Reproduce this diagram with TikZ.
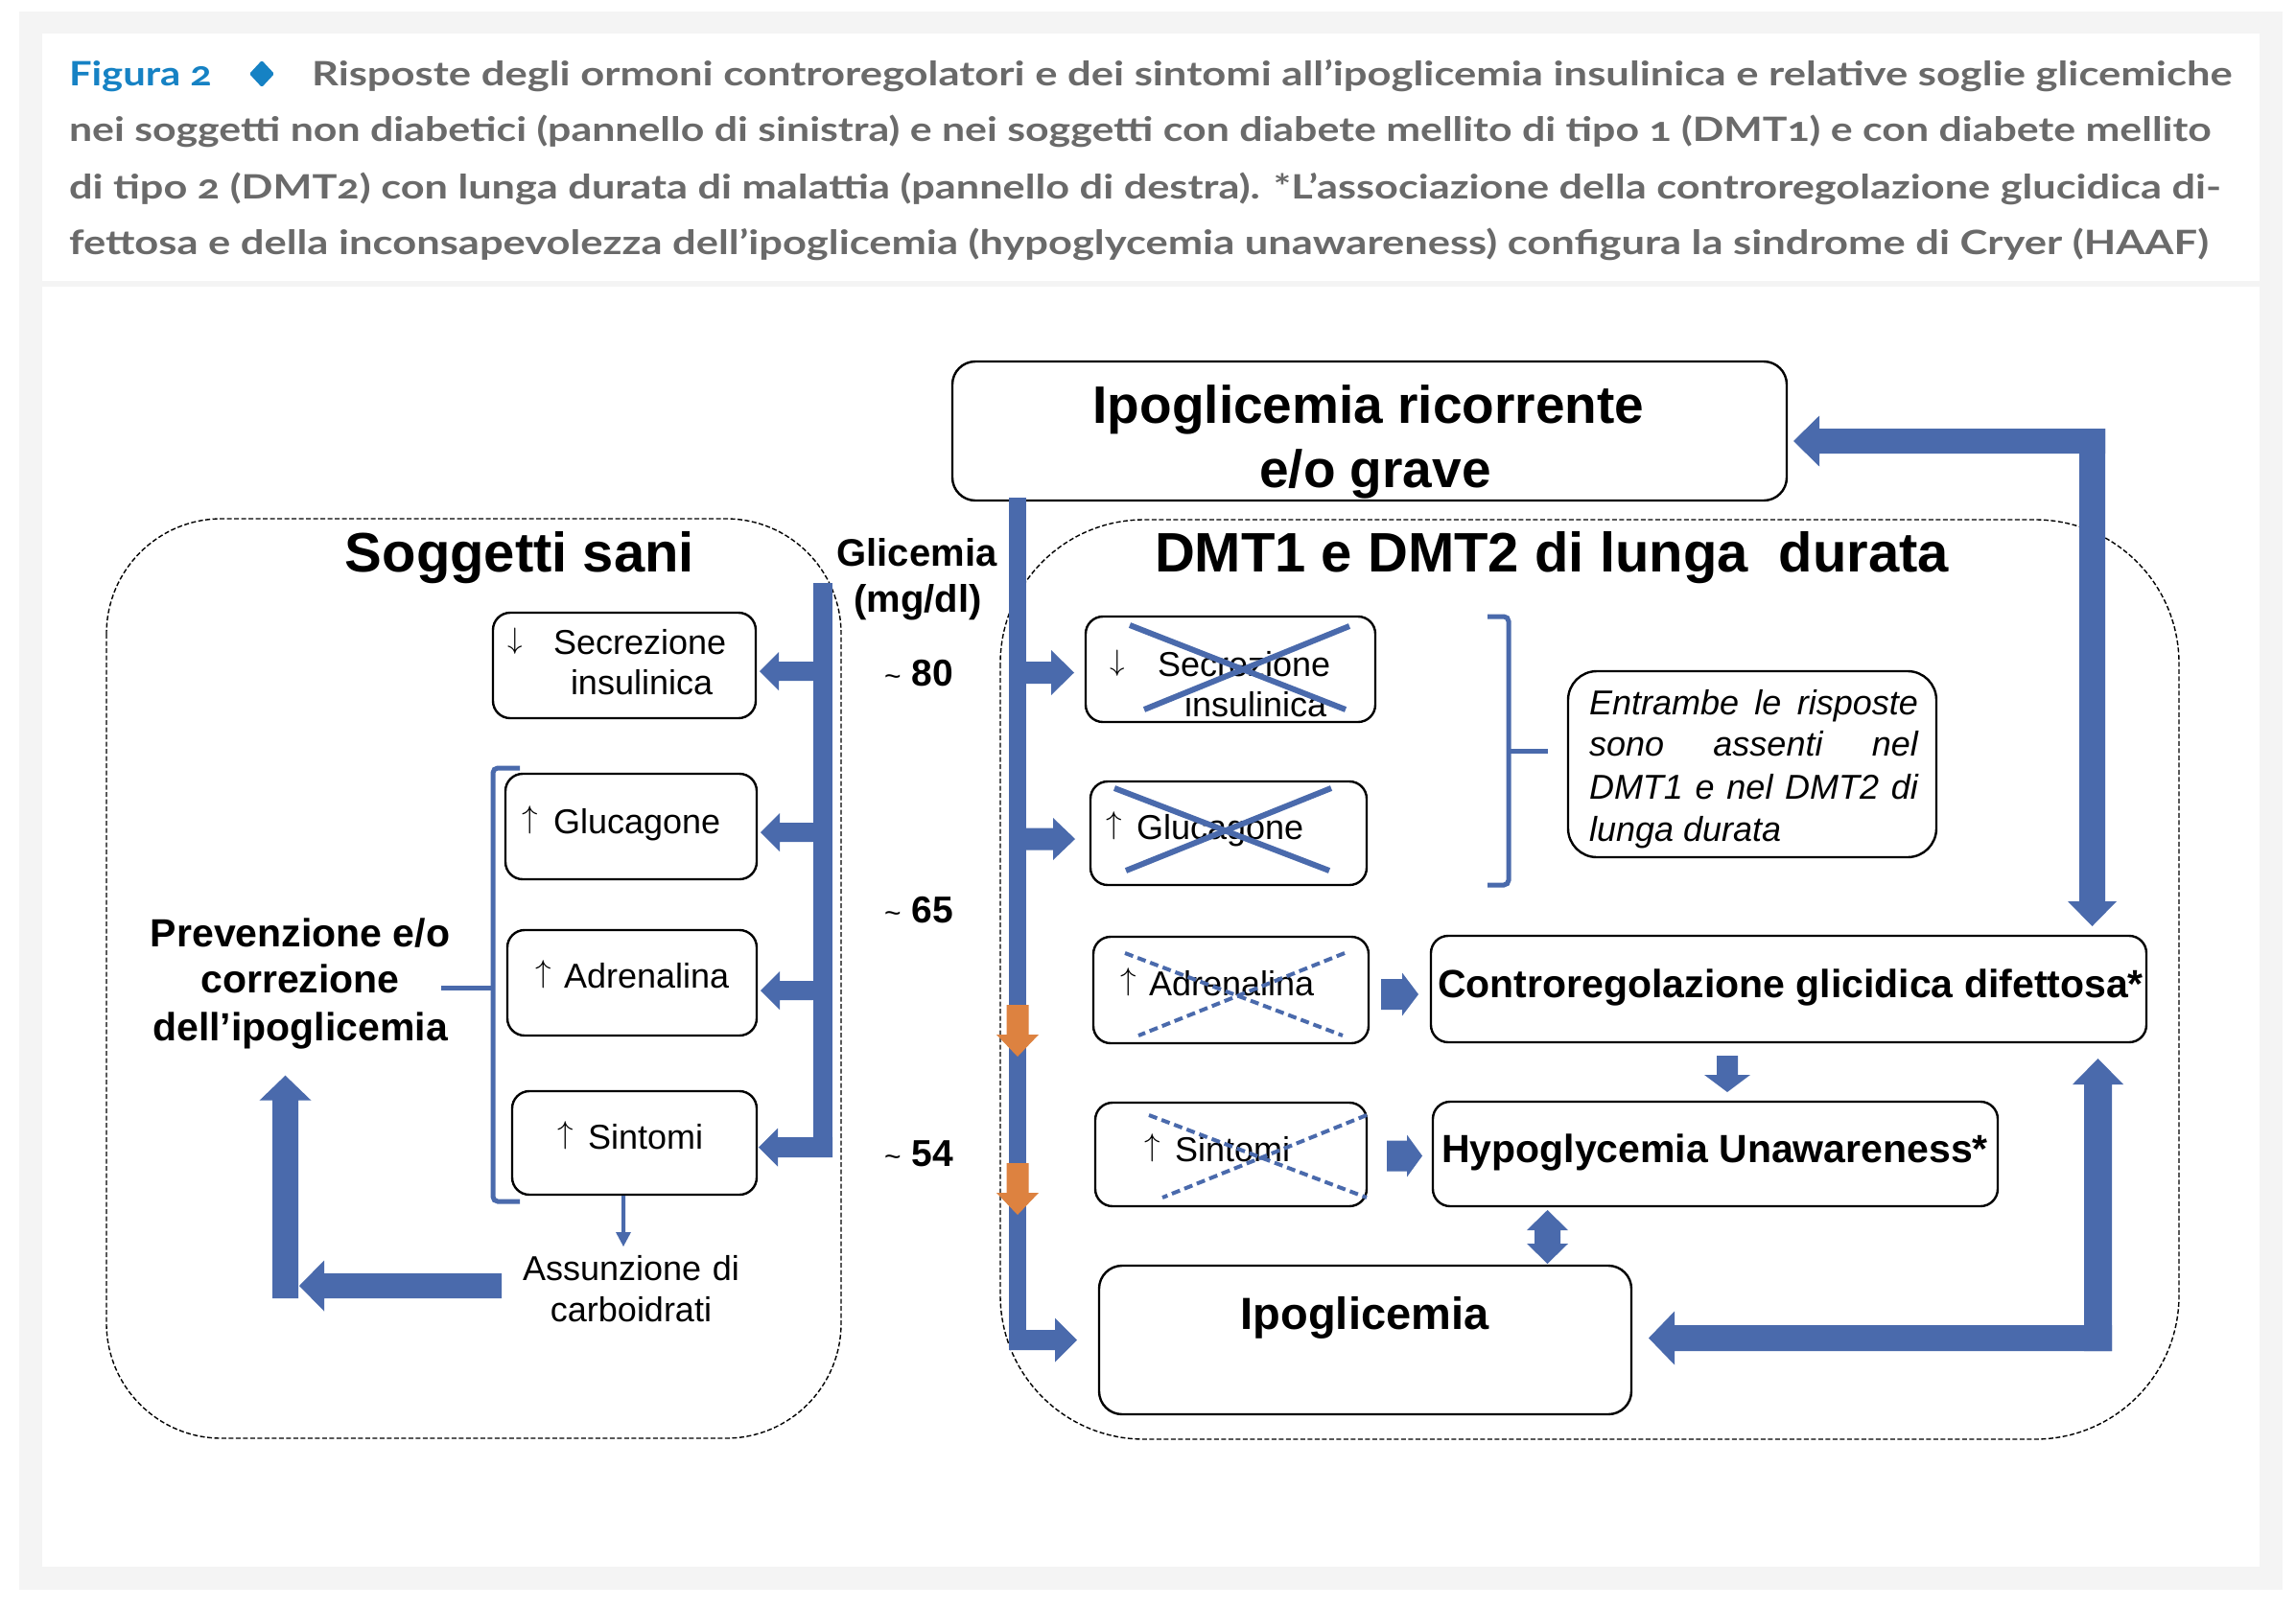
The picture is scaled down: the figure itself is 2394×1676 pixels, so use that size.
\RequirePackage{fix-cm}
\documentclass[tikz,border=0pt]{standalone}
\usepackage{fontspec}
\usepackage{graphicx}
\setmainfont{Liberation Sans}
\newfontfamily\capfont{Lato}[Numbers=OldStyle]
\usetikzlibrary{calc}
\definecolor{bgray}{RGB}{244,244,244}
\definecolor{capblue}{RGB}{22,130,196}
\definecolor{capgray}{RGB}{106,106,106}
\definecolor{ablue}{RGB}{74,106,172}
\definecolor{aorange}{RGB}{221,130,64}
\newcommand\fs[1]{\fontsize{#1}{#1}\selectfont}
\newcommand\upa{{\fs{33}\raisebox{6pt}{$\uparrow$}}}
\newcommand\dna{{\fs{31}\raisebox{6pt}{$\downarrow$}}}
% block arrow: [colour]{from}{to}{shaft half}{head half}{head length}
\newcommand\blockarrow[6][ablue]{%
  \coordinate (ba-a) at #2;
  \coordinate (ba-b) at #3;
  \coordinate (ba-h) at ($(ba-b)!#6!(ba-a)$);
  \fill[#1] ($(ba-a)!#4!90:(ba-b)$) -- ($(ba-h)!#4!90:(ba-b)$) -- ($(ba-h)!#5!90:(ba-b)$)
    -- (ba-b) -- ($(ba-h)!#5!270:(ba-b)$) -- ($(ba-h)!#4!270:(ba-b)$) -- ($(ba-a)!#4!270:(ba-b)$) -- cycle;
}
\begin{document}
\begin{tikzpicture}[x=1pt,y=-1pt,
  every node/.style={inner sep=0pt, outer sep=0pt},
  rbox/.style={draw=black, line width=2.4pt, rounded corners=#1, fill=white},
  rbox/.default=18pt,
  panel/.style={draw=black, line width=1.4pt, dash pattern=on 5pt off 2.5pt, rounded corners=#1},
  crossS/.style={draw=ablue, line width=6pt},
  crossD/.style={draw=ablue, line width=4pt, dash pattern=on 9pt off 5pt},
  brk/.style={draw=ablue, line width=5pt, rounded corners=5pt},
  captxt/.style={anchor=base west, text=capgray, font=\capfont\bfseries\fs{35}},
  body/.style={anchor=base west, font=\fs{36}},
  bodyc/.style={anchor=base, font=\fs{36}},
  bold/.style={anchor=base, font=\bfseries\fs{#1}},
]
% ---------- background ----------
\fill[white] (0,0) rectangle (2394,1676);
\fill[bgray] (20,12) rectangle (2380,1658);
\fill[white] (44,35) rectangle (2356,293);
\fill[white] (44,299) rectangle (2356,1634);
\useasboundingbox (0,0) rectangle (2394,1676);

% ---------- caption ----------
\node[captxt, text=capblue] (fig) at (72,89) {\resizebox{149pt}{\height}{Figura 2}};
\fill[capblue, rounded corners=1.5pt] (273,63) -- (286,77) -- (273,91) -- (260,77) -- cycle;
\node[captxt] (cap1) at (325,89) {\resizebox{2002pt}{\height}{Risposte degli ormoni controregolatori e dei sintomi all’ipoglicemia insulinica e relative soglie glicemiche}};
\node[captxt] (cap2) at (72,147) {\resizebox{2233pt}{\height}{nei soggetti non diabetici (pannello di sinistra) e nei soggetti con diabete mellito di tipo 1 (DMT1) e con diabete mellito}};
\node[captxt] (cap3) at (72,207) {\resizebox{2243pt}{\height}{di tipo 2 (DMT2) con lunga durata di malattia (pannello di destra). *L’associazione della controregolazione glucidica di-}};
\node[captxt] (cap4) at (72,265) {\resizebox{2230pt}{\height}{fettosa e della inconsapevolezza dell’ipoglicemia (hypoglycemia unawareness) configura la sindrome di Cryer (HAAF)}};

% ---------- panels ----------
\draw[panel=120pt] (111,541) rectangle (877,1500);
\draw[panel=150pt] (1043,542) rectangle (2272,1501);

% ---------- titles ----------
\node[bold=58] (tsani) at (542,596) {Soggetti sani};
\node[bold=58, anchor=base west] (tdmt) at (1204,596) {DMT1 e DMT2 di lunga~~durata};
\node[bold=40] (glic1) at (956,590) {Glicemia};
\node[bold=40] (glic2) at (957,638) {(mg/dl)};
\node[bold=39] (g80) at (958,715) {{\mdseries\fs{30}\textasciitilde} 80};
\node[bold=39] (g65) at (958,962) {{\mdseries\fs{30}\textasciitilde} 65};
\node[bold=39] (g54) at (958,1216) {{\mdseries\fs{30}\textasciitilde} 54};

% ---------- top box ----------
\node[rbox=24pt, minimum width=870pt, minimum height=145pt] (ric) at (1428,449.5) {};
\node[bold=55] (ric1) at (1427,441) {Ipoglicemia ricorrente};
\node[bold=55] (ric2) at (1434,508) {e/o grave};

% ---------- left boxes ----------
\node[rbox, minimum width=274pt, minimum height=110pt] (sL) at (651,694) {};
\node[rbox, minimum width=262pt, minimum height=110pt] (gL) at (658,862) {};
\node[rbox, minimum width=260pt, minimum height=110pt] (aL) at (659,1025) {};
\node[rbox, minimum width=255pt, minimum height=108pt] (tL) at (661.5,1192) {};
\node[bodyc] (sLa) at (537,682) {\dna};
\node[body] (sL1) at (577,682) {Secrezione};
\node[body] (sL2) at (595,724) {insulinica};
\node[bodyc] (gLa) at (553,869) {\upa};
\node[body] (gL1) at (577,869) {Glucagone};
\node[bodyc] (aLa) at (567,1030) {\upa};
\node[body] (aL1) at (588,1030) {Adrenalina};
\node[bodyc] (tLa) at (590,1198) {\upa};
\node[body] (tL1) at (613,1198) {Sintomi};

% left text
\node[bold=41] (prev1) at (313,987) {Prevenzione e/o};
\node[bold=41] (prev2) at (313,1035) {correzione};
\node[bold=41] (prev3) at (313,1085) {dell’ipoglicemia};
\node[bodyc] (ass1) at (658,1335) {\makebox[226pt][s]{Assunzione di}};
\node[bodyc] (ass2) at (658,1378) {carboidrati};

% left bracket
\draw[brk] (542,801) -- (514,801) -- (514,1253) -- (542,1253);
\draw[brk] (514,1030) -- (460,1030);

% left trunk and branches
\coordinate (ltop) at (848,608);
\coordinate (lbot) at (868,1207);
\fill[ablue] (ltop) rectangle (lbot);
\blockarrow{(858,700)}{($(sL.east)+(4,6)$)}{10pt}{20pt}{20pt}
\blockarrow{(858,868)}{($(gL.east)+(4,6)$)}{10pt}{20pt}{20pt}
\blockarrow{(858,1033)}{($(aL.east)+(4,8)$)}{10pt}{20pt}{20pt}
\blockarrow{(868,1196.5)}{($(tL.east)+(2,4.5)$)}{10.5pt}{20pt}{20pt}
% thin arrow to Assunzione
\blockarrow{($(tL.south)+(-11.5,1)$)}{($(tL.south)+(-11.5,54)$)}{2pt}{8pt}{15pt}
% L arrow
\blockarrow{($(ass1.base west)+(-22,6)$)}{(312,1341)}{13pt}{26.5pt}{26pt}
\blockarrow{(297.5,1354)}{($(prev3.south)+(-15.5,28)$)}{13.5pt}{27pt}{26pt}

% ---------- right boxes ----------
\node[rbox, minimum width=302pt, minimum height=110pt] (sR) at (1283,698) {};
\node[rbox, minimum width=288pt, minimum height=108pt] (gR) at (1281,869) {};
\node[rbox, minimum width=287pt, minimum height=111pt] (aR) at (1283.5,1032.5) {};
\node[rbox, minimum width=283pt, minimum height=108pt] (tR) at (1283.5,1204) {};
\node[rbox=30pt, minimum width=384pt, minimum height=194pt] (entr) at (1827,797) {};
\node[rbox, minimum width=746pt, minimum height=111pt] (contro) at (1865,1031.5) {};
\node[rbox, minimum width=589pt, minimum height=109pt] (hypo) at (1788.5,1203.5) {};
\node[rbox=24pt, minimum width=555pt, minimum height=155pt] (ipo) at (1423.5,1397.5) {};

\node[bodyc] (sRa) at (1165,705) {\dna};
\node[body] (sR1) at (1207,705) {Secrezione};
\node[body] (sR2) at (1235,747) {insulinica};
\node[bodyc] (gRa) at (1162,875) {\upa};
\node[body] (gR1) at (1185,875) {Glucagone};
\node[bodyc] (aRa) at (1177,1038) {\upa};
\node[body] (aR1) at (1198,1038) {Adrenalina};
\node[bodyc] (tRa) at (1202,1211) {\upa};
\node[body] (tR1) at (1225,1211) {Sintomi};

\node[body, font=\itshape\fs{36}] (en1) at (1657,745) {\makebox[343pt][s]{Entrambe le risposte}};
\node[body, font=\itshape\fs{36}] (en2) at (1657,788) {\makebox[343pt][s]{sono assenti nel}};
\node[body, font=\itshape\fs{36}] (en3) at (1657,833) {\makebox[343pt][s]{DMT1 e nel DMT2 di}};
\node[body, font=\itshape\fs{36}] (en4) at (1657,877) {lunga durata};

\node[bold=41] (contro1) at (1867,1040) {Controregolazione glicidica difettosa*};
\node[bold=41] (hypo1) at (1788,1212) {Hypoglycemia Unawareness*};
\node[bold=47] (ipo1) at (1423,1386) {Ipoglicemia};

% crosses
\draw[crossS] (1178,652) -- (1403,740);
\draw[crossS] (1407,653) -- (1193,740);
\draw[crossS] (1162,822) -- (1386,908);
\draw[crossS] (1388,822) -- (1174,908);
\draw[crossD] (1173,994) -- (1400,1080);
\draw[crossD] (1402,994) -- (1187,1080);
\draw[crossD] (1198,1163) -- (1425,1249);
\draw[crossD] (1425,1163) -- (1212,1249);

% right bracket
\draw[brk] (1551,643) -- (1573,643) -- (1573,923) -- (1551,923);
\draw[brk] (1573,783) -- (1614,783);

% right trunk and branches
\coordinate (rtop) at (1052,519);
\coordinate (rbot) at (1070,1408);
\fill[ablue] (rtop) rectangle (rbot);
\blockarrow{(1061,701.5)}{($(sR.west)+(-12,3.5)$)}{11.5pt}{23.5pt}{24pt}
\blockarrow{(1061,875)}{($(gR.west)+(-16,6)$)}{11.5pt}{22pt}{23pt}
\blockarrow{(1052,1397.5)}{($(ipo.west)+(-23,0)$)}{10.5pt}{23pt}{23pt}
% orange arrows
\blockarrow[aorange]{(1061,1048)}{(1061,1102)}{11.5pt}{22pt}{23pt}
\blockarrow[aorange]{(1061,1213)}{(1061,1267)}{11.5pt}{22pt}{23pt}

% small arrows
\blockarrow{($(aR.east)+(13,4.5)$)}{($(contro.west)+(-13,5.5)$)}{16pt}{22.5pt}{17pt}
\blockarrow{($(tR.east)+(21,1.5)$)}{($(hypo.west)+(-11,2)$)}{16pt}{22pt}{16pt}
\blockarrow{($(contro.south)+(-64,14)$)}{($(hypo.north)+(12.5,-10)$)}{11pt}{24pt}{18pt}
\coordinate (dmid) at (1613.5,1290);
\blockarrow{(dmid)}{($(hypo.south)+(-175,4)$)}{13.5pt}{21.5pt}{21pt}
\blockarrow{(dmid)}{($(ipo.north)+(190,-2)$)}{13.5pt}{21.5pt}{21pt}

% top loop
\coordinate (tb) at (2181.5,447);
\blockarrow{(2195,460)}{($(ric.east)+(7,10.5)$)}{13pt}{26.5pt}{27pt}
\blockarrow{(tb)}{($(contro.north -| tb)+(0,-10)$)}{13.5pt}{25.5pt}{26pt}
% bottom loop
\coordinate (bb) at (2187.5,1409);
\blockarrow{(bb)}{($(contro.south -| bb)+(0,17)$)}{14.5pt}{26.5pt}{27pt}
\blockarrow{(2202,1395.5)}{($(ipo.east)+(18,-2)$)}{13.5pt}{28pt}{27pt}
\end{tikzpicture}
\end{document}
